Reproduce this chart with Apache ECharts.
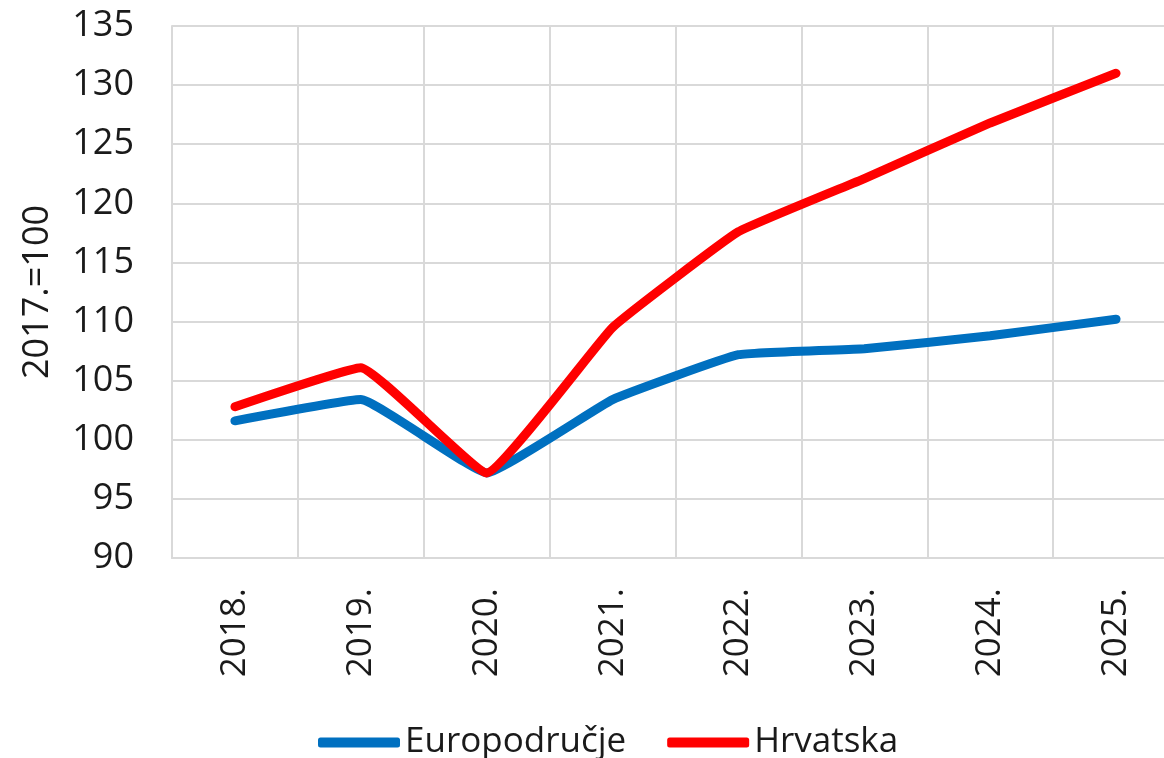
<!DOCTYPE html>
<html>
<head>
<meta charset="utf-8">
<script src="https://cdn.jsdelivr.net/npm/echarts@6/dist/echarts.min.js"></script>
<style>
html,body{margin:0;padding:0;background:#fff;}
#chart{width:1164px;height:758px;}
</style>
</head>
<body>
<div id="chart"></div>
<script>
const categories = ['2018.', '2019.', '2020.', '2021.', '2022.', '2023.', '2024.', '2025.'];
const europodrucje = [101.6, 103.4, 97.2, 103.4, 107.2, 107.7, 108.8, 110.2];
const hrvatska = [102.8, 106.1, 97.2, 109.5, 117.6, 122.1, 126.8, 131.0];
const yAxisName = '2017.=100';
const seriesNames = ['Europodručje', 'Hrvatska'];

const font = 'Open Sans';
const gridColor = '#d9d9d9';
const chart = echarts.init(document.getElementById('chart'));
chart.setOption({
  animation: false,
  backgroundColor: '#ffffff',
  grid: { left: 172, top: 26, width: 1007, height: 532, containLabel: false, outerBoundsMode: 'none' },
  legend: {
    left: 313, top: 720,
    itemWidth: 82, itemHeight: 10, itemGap: 41,
    icon: 'roundRect',
    textStyle: { fontFamily: font, fontSize: 35, color: '#1a1a1a' },
    data: seriesNames
  },
  xAxis: {
    type: 'category',
    data: categories,
    boundaryGap: true,
    axisLine: { show: true, lineStyle: { color: gridColor, width: 2 } },
    axisTick: { show: false },
    splitLine: { show: true, interval: 0, lineStyle: { color: gridColor, width: 2 } },
    axisLabel: { interval: 0, rotate: 90, margin: 30, fontFamily: font, fontSize: 35, color: '#1a1a1a' }
  },
  yAxis: {
    type: 'value',
    min: 90, max: 135, interval: 5,
    name: yAxisName,
    nameLocation: 'middle',
    nameGap: 116,
    nameRotate: 90,
    nameTextStyle: { fontFamily: font, fontSize: 36, color: '#1a1a1a' },
    axisLine: { show: true, lineStyle: { color: gridColor, width: 2 } },
    axisTick: { show: false },
    splitLine: { show: true, lineStyle: { color: gridColor, width: 2 } },
    axisLabel: { margin: 38, fontFamily: font, fontSize: 36, color: '#1a1a1a' }
  },
  series: [
    {
      name: seriesNames[0], type: 'line', data: europodrucje,
      symbol: 'none', smooth: 0.1,
      itemStyle: { color: '#0070C0' },
      lineStyle: { color: '#0070C0', width: 9, cap: 'round', join: 'round' }
    },
    {
      name: seriesNames[1], type: 'line', data: hrvatska,
      symbol: 'none', smooth: 0.1,
      itemStyle: { color: '#FF0000' },
      lineStyle: { color: '#FF0000', width: 9, cap: 'round', join: 'round' }
    }
  ]
});
</script>
</body>
</html>
